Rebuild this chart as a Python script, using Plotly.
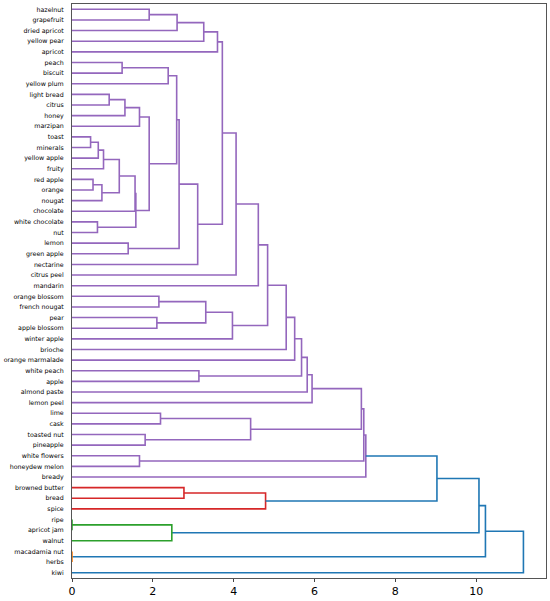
import plotly.graph_objects as go

# Leaf labels, top to bottom as they appear in the dendrogram
leaves = ['hazelnut', 'grapefruit', 'dried apricot', 'yellow pear', 'apricot',
          'peach', 'biscuit', 'yellow plum', 'light bread', 'citrus', 'honey',
          'marzipan', 'toast', 'minerals', 'yellow apple', 'fruity', 'red apple',
          'orange', 'nougat', 'chocolate', 'white chocolate', 'nut', 'lemon',
          'green apple', 'nectarine', 'citrus peel', 'mandarin', 'orange blossom',
          'french nougat', 'pear', 'apple blossom', 'winter apple', 'brioche',
          'orange marmalade', 'white peach', 'apple', 'almond paste', 'lemon peel',
          'lime', 'cask', 'toasted nut', 'pineapple', 'white flowers',
          'honeydew melon', 'bready', 'browned butter', 'bread', 'spice', 'ripe',
          'apricot jam', 'walnut', 'macadamia nut', 'herbs', 'kiwi']

# Merges: (child a, child b, distance). Ints refer to earlier merges.
merge_a = ['hazelnut', 0, 1, 2, 'peach', 4, 'light bread', 6, 7, 'toast', 9, 10,
           'red apple', 12, 11, 14, 'white chocolate', 15, 8, 5, 'lemon', 19, 21, 3,
           23, 24, 'orange blossom', 'pear', 26, 28, 25, 30, 31, 'white peach', 32,
           34, 35, 'lime', 'toasted nut', 37, 36, 'white flowers', 40, 42,
           'browned butter', 44, 43, 'ripe', 47, 46, 'macadamia nut', 49, 51]
merge_b = ['grapefruit', 'dried apricot', 'yellow pear', 'apricot', 'biscuit',
           'yellow plum', 'citrus', 'honey', 'marzipan', 'minerals', 'yellow apple',
           'fruity', 'orange', 'nougat', 13, 'chocolate', 'nut', 16, 17, 18,
           'green apple', 20, 'nectarine', 22, 'citrus peel', 'mandarin',
           'french nougat', 'apple blossom', 27, 'winter apple', 29, 'brioche',
           'orange marmalade', 'apple', 33, 'almond paste', 'lemon peel', 'cask',
           'pineapple', 38, 39, 'honeydew melon', 41, 'bready', 'bread', 'spice', 45,
           'apricot jam', 'walnut', 48, 'herbs', 50, 'kiwi']
merge_dist = [1.91, 2.60, 3.26, 3.60, 1.24, 2.38, 0.92, 1.31, 1.67, 0.46, 0.65, 0.78,
              0.52, 0.74, 1.17, 1.56, 0.63, 1.58, 1.91, 2.59, 1.39, 2.65, 3.11, 3.72,
              4.06, 4.61, 2.15, 2.10, 3.31, 3.97, 4.84, 5.30, 5.51, 3.14, 5.68, 5.82,
              5.94, 2.19, 1.81, 4.42, 7.16, 1.67, 7.22, 7.27, 2.77, 4.79, 9.03, 0.0,
              2.47, 10.07, 0.0, 10.23, 11.17]

x_ticks = [0, 2, 4, 6, 8, 10]

##### Layout of the tree #####
n = len(leaves)
pos = {}
for i, name in enumerate(leaves):
    pos[name] = (0.0, 10 * (n - 1 - i) + 5)

segments = []
parent = {}
for k, (a, b, h) in enumerate(zip(merge_a, merge_b, merge_dist)):
    ha, ya = pos[a]
    hb, yb = pos[b]
    segments.append(([ha, h, h, hb], [ya, ya, yb, yb]))
    pos[k] = (h, (ya + yb) / 2)
    for c in (a, b):
        if isinstance(c, int):
            parent[c] = k

# colour clusters like scipy's default threshold (0.7 * max distance)
threshold = 0.7 * max(merge_dist)
palette = ['#ff7f0e', '#2ca02c', '#d62728', '#9467bd', '#8c564b', '#e377c2']
above_color = '#1f77b4'


def cluster_root(k):
    while k in parent and merge_dist[parent[k]] < threshold:
        k = parent[k]
    return k


roots = sorted({cluster_root(k) for k in range(len(merge_dist)) if merge_dist[k] < threshold},
               key=lambda r: min(segments[r][1]))
root_color = {r: palette[i % len(palette)] for i, r in enumerate(roots)}

lines = {}
for k, (xs, ys) in enumerate(segments):
    col = above_color if merge_dist[k] >= threshold else root_color[cluster_root(k)]
    lx, ly = lines.setdefault(col, ([], []))
    lx += xs + [None]
    ly += ys + [None]

fig = go.Figure()
for col, (lx, ly) in lines.items():
    fig.add_trace(go.Scatter(x=lx, y=ly, mode='lines', line=dict(color=col, width=1.6),
                             hoverinfo='skip', showlegend=False))

fig.update_layout(width=550, height=601, plot_bgcolor='white', paper_bgcolor='white',
                  margin=dict(l=72, r=4, t=3, b=21), showlegend=False,
                  font=dict(family='DejaVu Sans', color='black'))
fig.update_xaxes(range=[0, 1.05 * max(merge_dist)], tickvals=x_ticks, ticks='outside',
                 ticklen=3, tickcolor='#444', showgrid=False, zeroline=False,
                 showline=True, linecolor='#555', linewidth=1, mirror=True,
                 tickfont=dict(size=11))
fig.update_yaxes(range=[0, 10 * n], tickvals=[10 * (n - 1 - i) + 5 for i in range(n)],
                 ticktext=leaves, ticks='', showgrid=False, zeroline=False,
                 showline=True, linecolor='#555', linewidth=1, mirror=True,
                 tickfont=dict(size=6.3), ticklabelstandoff=6)

# page body has a default margin; drop it so the figure sits at the window corner
fig.write_html("out.html", config={'displayModeBar': False},
               post_script="document.body.style.margin='0';document.body.style.overflow='hidden';")
